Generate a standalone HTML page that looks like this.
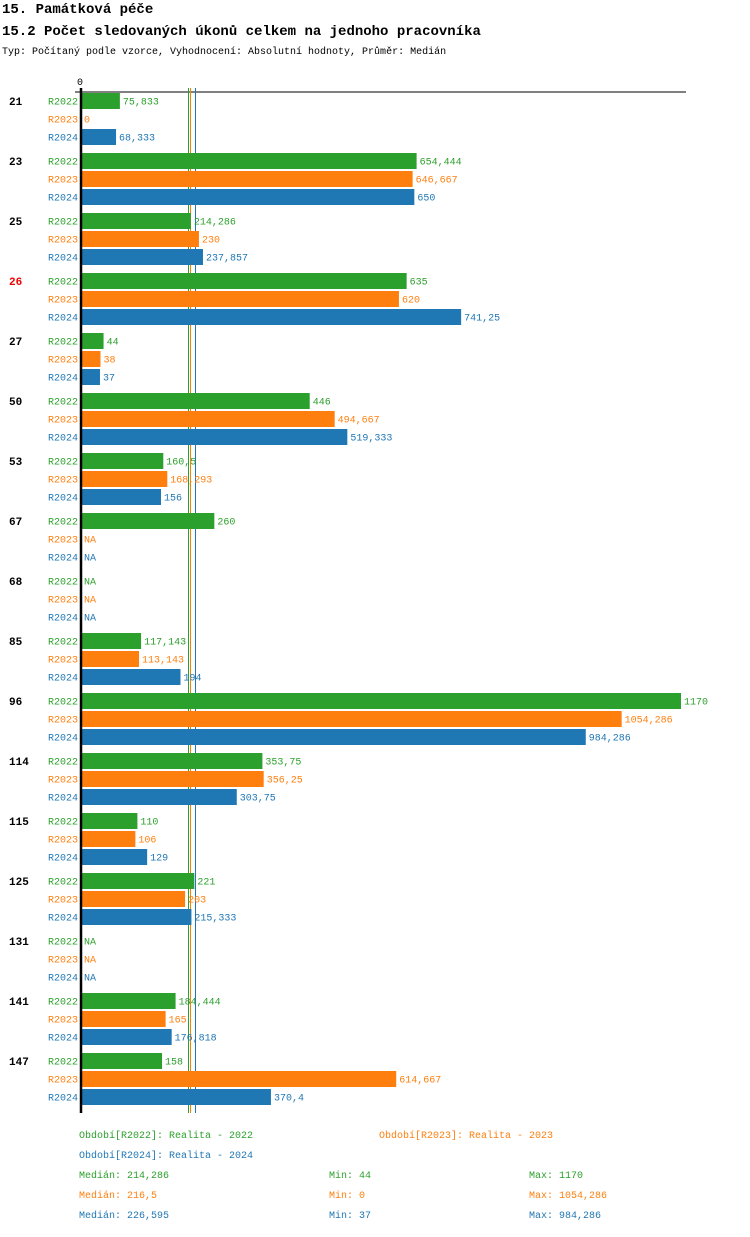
<!DOCTYPE html>
<html><head><meta charset="utf-8"><style>
body{margin:0;background:#fff;width:750px;height:1232px;overflow:hidden;font-family:"Liberation Mono",monospace}
</style></head><body>
<svg id="c" width="750" height="1232" xmlns="http://www.w3.org/2000/svg" font-family="Liberation Mono, monospace">
<text x="2" y="13" font-size="14" font-weight="bold">15. Památková péče</text>
<text x="2" y="35" font-size="14" font-weight="bold">15.2 Počet sledovaných úkonů celkem na jednoho pracovníka</text>
<text x="2" y="54" font-size="10">Typ: Počítaný podle vzorce, Vyhodnocení: Absolutní hodnoty, Průměr: Medián</text>
<g id="plot"></g>
</svg>
<script>
const categories=["21","23","25","26","27","50","53","67","68","85","96","114","115","125","131","141","147"];
const highlight=["26"];
const seriesNames=["R2022","R2023","R2024"];
const colors=["#2ca02c","#ff7f0e","#1f77b4"];
const s2022=[75.833,654.444,214.286,635,44,446,160.5,260,null,117.143,1170,353.75,110,221,null,184.444,158];
const s2023=[0,646.667,230,620,38,494.667,168.293,null,null,113.143,1054.286,356.25,106,203,null,165,614.667];
const s2024=[68.333,650,237.857,741.25,37,519.333,156,null,null,194,984.286,303.75,129,215.333,null,176.818,370.4];
const medians=[214.286,216.5,226.595];
const mins=[44,0,37];
const maxs=[1170,1054.286,984.286];
const series=[s2022,s2023,s2024];
const NS="http://www.w3.org/2000/svg";
const g=document.getElementById('plot');
const x0=81, scale=600/1170;
const xs=v=>x0+v*scale;
const rowY=(i,j)=>101+i*60+j*18;
const fmt=v=>String(v).replace('.',',');
function mk(t,a,txt){const e=document.createElementNS(NS,t);for(const k in a)e.setAttribute(k,a[k]);if(txt!==undefined)e.textContent=txt;g.appendChild(e);return e;}
let e=mk('text',{x:77,y:85,'font-size':10},'0');


e=mk('line',{x1:75,x2:686,y1:92,y2:92,stroke:'#000','stroke-width':1});


medians.forEach((m,j)=>{
  const x=Math.floor(xs(m))-1.5;
  e=mk('line',{x1:x,x2:x,y1:88,y2:1113,stroke:colors[j],'stroke-width':1});
  
  
});
categories.forEach((c,i)=>{
  e=mk('text',{x:9,y:rowY(i,0)+4,'font-size':11,'font-weight':'bold',fill:highlight.includes(c)?'#e00':'#000'},c);
  
  
  series.forEach((s,j)=>{
    const y=rowY(i,j);
    e=mk('text',{x:78,y:y+3.5,'font-size':10,fill:colors[j],'text-anchor':'end'},seriesNames[j]);
    
    
    const v=s[i];
    if(v===null){
      e=mk('text',{x:84,y:y+3.5,'font-size':10,fill:colors[j]},'NA');
      
      
      return;
    }
    const w=xs(v)-x0;
    if(w>0){
      e=mk('rect',{x:x0,y:y-8,width:w,height:16,fill:colors[j]});
      
      
    }
    e=mk('text',{x:xs(v)+3,y:y+3.5,'font-size':10,fill:colors[j]},fmt(v));
    
    
  });
});
e=mk('line',{x1:81,x2:81,y1:88,y2:1113,stroke:'#000','stroke-width':2.5});


const legend=[["Období[R2022]: Realita - 2022",79,1138],["Období[R2023]: Realita - 2023",379,1138],["Období[R2024]: Realita - 2024",79,1158]];
legend.forEach((l,j)=>{
  e=mk('text',{x:l[1],y:l[2],'font-size':10,fill:colors[j]},l[0]);
  
  
});
seriesNames.forEach((n,j)=>{
  const y=1178+j*20;
  e=mk('text',{x:79,y:y,'font-size':10,fill:colors[j]},'Medián: '+fmt(medians[j]));
  
  
  e=mk('text',{x:329,y:y,'font-size':10,fill:colors[j]},'Min: '+fmt(mins[j]));
  
  
  e=mk('text',{x:529,y:y,'font-size':10,fill:colors[j]},'Max: '+fmt(maxs[j]));
  
  
});
</script>
</body></html>
